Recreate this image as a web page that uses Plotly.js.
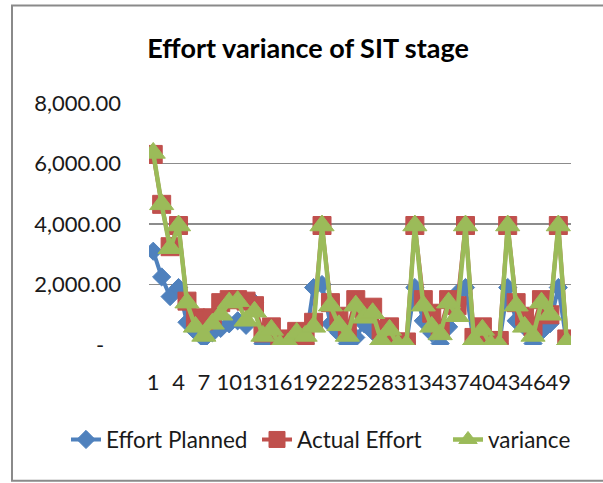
<!DOCTYPE html>
<html>
<head>
<meta charset="utf-8">
<script src="https://cdn.plot.ly/plotly-3.0.1.min.js"></script>
<style>
  html, body { margin: 0; padding: 0; background: #ffffff; }
  #chart { width: 603px; height: 483px; }
</style>
</head>
<body>
<div id="chart"></div>
<script>
// Categories 1..50
const categories = [1,2,3,4,5,6,7,8,9,10,11,12,13,14,15,16,17,18,19,20,21,22,23,24,25,26,27,28,29,30,31,32,33,34,35,36,37,38,39,40,41,42,43,44,45,46,47,48,49,50];

const effortPlanned = [3100,2250,1600,1900,750,450,200,400,550,700,800,650,1400,50,0,100,150,300,50,1900,
                       2000,700,400,50,250,700,450,50,200,100,100,1900,800,400,50,600,1700,1900,50,200,
                       100,50,1900,800,600,50,450,700,1900,50];

const actualEffort = [6300,4650,3250,3950,1450,900,800,900,1400,1500,1500,1450,1300,400,600,100,200,450,300,750,
                      3950,1400,950,500,1500,1100,1250,500,600,100,100,3950,1500,1050,500,1500,1300,3950,250,600,
                      150,150,3950,1400,950,600,1500,1000,3950,200];

const variance = [6350,4650,3200,3950,1400,600,300,700,1000,1400,1450,800,1100,300,500,0,50,400,300,600,
                  3950,1300,650,300,1300,900,1050,150,500,0,0,3950,1300,600,350,1400,950,3950,150,500,
                  0,0,3950,1300,600,300,1400,1000,3950,100];

const xTickVals = [1,4,7,10,13,16,19,22,25,28,31,34,37,40,43,46,49];
const yTickVals = [0,2000,4000,6000,8000];
const yTickText = ["-\u00a0\u00a0\u00a0","2,000.00","4,000.00","6,000.00","8,000.00"];

const FONT = "Lato, 'Open Sans', sans-serif";

const traces = [
  {
    x: categories, y: effortPlanned, name: "Effort Planned", type: "scatter", mode: "lines+markers",
    line: { color: "#4F81BD", width: 4 },
    marker: { symbol: "diamond", size: 14, color: "#4F81BD", line: { color: "#4F81BD", width: 1 } }
  },
  {
    x: categories, y: actualEffort, name: "Actual Effort", type: "scatter", mode: "lines+markers",
    line: { color: "#C0504D", width: 4 },
    marker: { symbol: "square", size: 18, color: "#C0504D", line: { color: "#C0504D", width: 1 } }
  },
  {
    x: categories, y: variance, name: "variance", type: "scatter", mode: "lines+markers",
    line: { color: "#9BBB59", width: 4.5 },
    marker: { symbol: "triangle-up", size: 21, color: "#9BBB59", line: { color: "#9BBB59", width: 1 } }
  }
];

const layout = {
  width: 603, height: 483,
  paper_bgcolor: "#ffffff", plot_bgcolor: "#ffffff",
  margin: { l: 149, r: 32, t: 102.6, b: 138, pad: 0, autoexpand: false },
  font: { family: FONT, size: 22, color: "#1a1a1a" },
  title: {
    text: "<b>Effort variance of SIT stage</b>",
    font: { family: FONT, size: 27, color: "#000000" },
    x: 0.511, xref: "container", xanchor: "center",
    y: 0.90, yref: "container", yanchor: "middle"
  },
  xaxis: {
    type: "linear",
    range: [0.5, 50.5],
    tickmode: "array", tickvals: xTickVals, ticktext: xTickVals.map(String),
    tickangle: 0,
    showgrid: false, zeroline: false, showline: false,
    ticks: "", ticklabelstandoff: 22,
    tickfont: { family: FONT, size: 22, color: "#1a1a1a" },
    fixedrange: true
  },
  yaxis: {
    range: [0, 8000],
    tickmode: "array", tickvals: yTickVals, ticktext: yTickText,
    showgrid: true, gridcolor: "#8c8c8c", gridwidth: 1.3,
    zeroline: false, showline: false,
    ticks: "", ticklabelstandoff: 27,
    tickfont: { family: FONT, size: 22, color: "#1a1a1a" },
    fixedrange: true
  },
  showlegend: true,
  legend: {
    orientation: "h",
    x: (66 - 149) / 422, xref: "paper", xanchor: "left",
    y: (345 - 440) / 242.4, yref: "paper", yanchor: "middle",
    font: { family: FONT, size: 22.5, color: "#1a1a1a" },
    bgcolor: "rgba(0,0,0,0)",
    itemwidth: 30,
    entrywidth: 146,
    tracegroupgap: 0,
    traceorder: "normal"
  },
  shapes: [
    {
      type: "rect", xref: "paper", yref: "paper",
      x0: (12 - 149) / 422, x1: (610 - 149) / 422,
      y0: (345 - 481) / 242.4, y1: (345 - 5) / 242.4,
      line: { color: "#8a8a8a", width: 2 },
      fillcolor: "rgba(0,0,0,0)", layer: "below"
    }
  ]
};

Plotly.newPlot("chart", traces, layout, { displayModeBar: false, staticPlot: true });
</script>
</body>
</html>
